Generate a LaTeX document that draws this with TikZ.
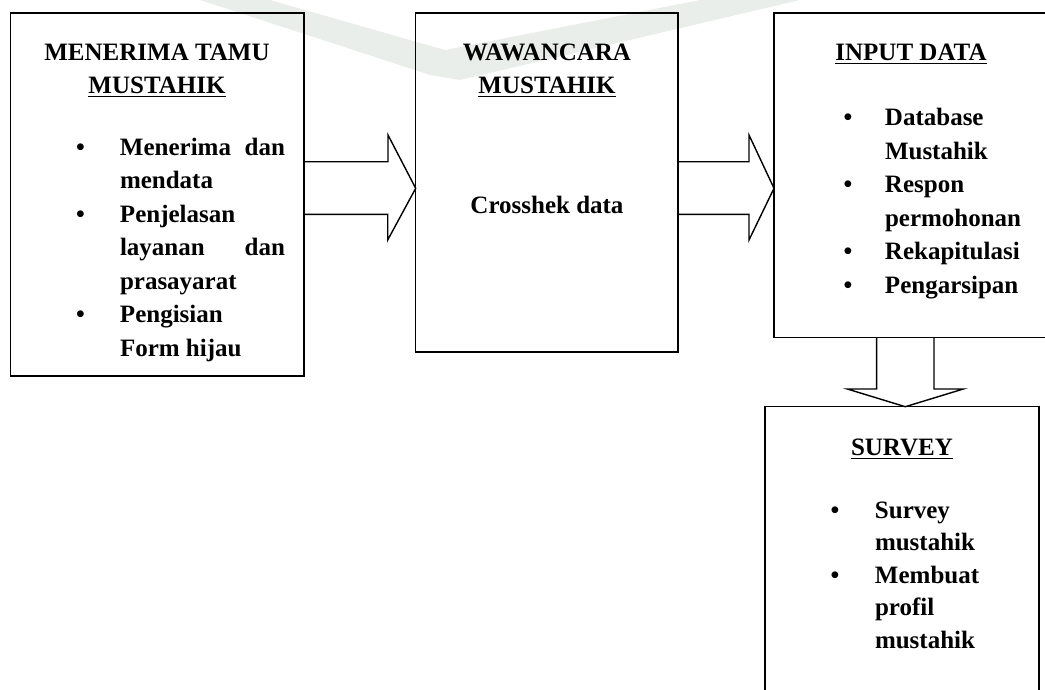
\documentclass[tikz,border=0pt]{standalone}
\usepackage{fontspec}
\setmainfont{Liberation Serif}
\usetikzlibrary{calc}

% underlined heading word
\newcommand\hdline[1]{\setbox0\hbox{#1}\rlap{\rule[-4pt]{\wd0}{1.4pt}}\box0}
% bullet column of a given width
\newcommand\bul[1]{\makebox[#1][l]{\textbullet}}
% justified line of a given width
\newcommand\jline[2]{\hbox to #1{#2}}

\definecolor{wmark}{RGB}{234,238,234}

\begin{document}
\begin{tikzpicture}[x=1pt,y=-1pt,
  box/.style={draw, line width=1.4pt, inner sep=0pt, outer sep=0pt},
  blk/.style={draw, line width=1.4pt, line join=miter},
  txt/.style={font=\bfseries\fontsize{25}{33.5}\selectfont, inner sep=0pt, outer sep=0pt},
  lst/.style={txt, align=left, anchor=base west}]

\useasboundingbox (0,0) rectangle (1045,689);
\clip (0,0) rectangle (1045,689);

% faint logo band at the top
\fill[wmark] (200,0) -- (270,0) -- (445,50) -- (700,0) -- (800,0) -- (460,80) -- (430,75) -- cycle;

% process boxes
\node[box, minimum width=293.5pt, minimum height=363pt] (b1) at (157.25,194.5) {};
\node[box, minimum width=262.3pt, minimum height=339pt] (b2) at (546.85,182.5) {};
\node[box, minimum width=274pt, minimum height=324.7pt] (b3) at (911,175.35) {};
\node[box, minimum width=274pt, minimum height=313.3pt] (b4) at (902,563.35) {};

% box 1 (list anchored at the baseline of its last line)
\node[txt, anchor=base] (t1a) at (157,60) {MENERIMA TAMU};
\node[txt, anchor=base] (t1b) at (157,93) {\hdline{MUSTAHIK}};
\node[lst] (l1) at (76,356) {%
  \bul{44pt}\jline{165pt}{Menerima\hfill dan}\\
  \hspace*{44pt}mendata\\
  \bul{44pt}Penjelasan\\
  \hspace*{44pt}\jline{165pt}{layanan\hfill dan}\\
  \hspace*{44pt}prasayarat\\
  \bul{44pt}Pengisian\\
  \hspace*{44pt}Form hijau};

% box 2
\node[txt, anchor=base] (t2a) at (547,60) {WAWANCARA};
\node[txt, anchor=base] (t2b) at (547,93) {\hdline{MUSTAHIK}};
\node[txt, anchor=base] (t2c) at (547,213) {Crosshek data};

% box 3
\node[txt, anchor=base] (t3a) at (911,60) {\hdline{INPUT DATA}};
\node[lst] (l3) at (843.5,293) {%
  \bul{41.5pt}Database\\
  \hspace*{41.5pt}Mustahik\\
  \bul{41.5pt}Respon\\
  \hspace*{41.5pt}permohonan\\
  \bul{41.5pt}Rekapitulasi\\
  \bul{41.5pt}Pengarsipan};

% box 4
\node[txt, anchor=base] (t4a) at (902,455) {\hdline{SURVEY}};
\node[lst, font=\bfseries\fontsize{25}{32.5}\selectfont] (l4) at (830.5,648) {%
  \bul{44.5pt}Survey\\
  \hspace*{44.5pt}mustahik\\
  \bul{44.5pt}Membuat\\
  \hspace*{44.5pt}profil\\
  \hspace*{44.5pt}mustahik};

% block arrows
\coordinate (r1) at (0,188.3);
\coordinate (c3) at (905.3,0);
\draw[blk] (b1.east |- r1) ++(0,-26.6) -- ++(84,0) -- ++(0,-26.7)
  -- (b2.west |- r1) -- ++(-28,51.7) -- ++(0,-25.7) -- ++(-84,0);
\draw[blk] (b2.east |- r1) ++(0,-26.6) -- ++(71,0) -- ++(0,-26.7)
  -- (b3.west |- r1) -- ++(-25,51.7) -- ++(0,-25.7) -- ++(-71,0);
\draw[blk] (b3.south -| c3) ++(-28.7,0) -- ++(0,51.3) -- ++(-29.3,0)
  -- (b4.north -| c3) -- ++(58,-17.7) -- ++(-29.3,0) -- ++(0,-51.3);

\end{tikzpicture}
\end{document}
